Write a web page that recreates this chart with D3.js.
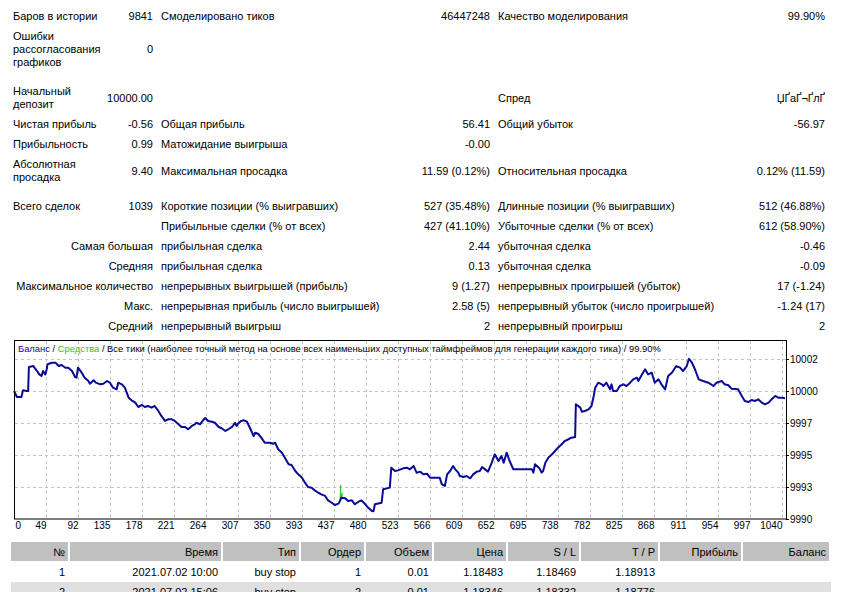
<!DOCTYPE html>
<html>
<head>
<meta charset="utf-8">
<script src="https://cdn.jsdelivr.net/npm/d3@7"></script>
<style>
  body { margin: 0; background: #fff; }
  svg text { font-family: "Liberation Sans", Arial, sans-serif; font-size: 11px; fill: #000; }
</style>
</head>
<body>
<svg width="846" height="592"></svg>
<script>
// --- summary table (3 column pairs, 13 rows)
var col1Labels = [["Баров в истории"], ["Ошибки", "рассогласования", "графиков"], ["Начальный", "депозит"],
  ["Чистая прибыль"], ["Прибыльность"], ["Абсолютная", "просадка"], ["Всего сделок"], [],
  ["Самая большая"], ["Средняя"], ["Максимальное количество"], ["Макс."], ["Средний"]]
var col1Values = ["9841", "0", "10000.00", "-0.56", "0.99", "9.40", "1039", "", "", "", "", "", ""]
var col2Labels = ["Смоделировано тиков", "", "", "Общая прибыль", "Матожидание выигрыша", "Максимальная просадка",
  "Короткие позиции (% выигравших)", "Прибыльные сделки (% от всех)", "прибыльная сделка", "прибыльная сделка",
  "непрерывных выигрышей (прибыль)", "непрерывная прибыль (число выигрышей)", "непрерывный выигрыш"]
var col2Values = ["46447248", "", "", "56.41", "-0.00", "11.59 (0.12%)", "527 (35.48%)", "427 (41.10%)",
  "2.44", "0.13", "9 (1.27)", "2.58 (5)", "2"]
var col3Labels = ["Качество моделирования", "", "Спред", "Общий убыток", "", "Относительная просадка",
  "Длинные позиции (% выигравших)", "Убыточные сделки (% от всех)", "убыточная сделка", "убыточная сделка",
  "непрерывных проигрышей (убыток)", "непрерывный убыток (число проигрышей)", "непрерывный проигрыш"]
var col3Values = ["99.90%", "", "ЏҐаҐ¬ҐлҐ", "-56.97", "", "0.12% (11.59)", "512 (46.88%)", "612 (58.90%)",
  "-0.46", "-0.09", "17 (-1.24)", "-1.24 (17)", "2"]

// --- chart: balance after trade n
var balancePoints = [[0,10000.00],[4,9999.53],[10,9999.53],[12,10000.05],[17,10000.00],[19,10000.00],[20,10001.88],
  [26,10001.95],[31,10001.56],[34,10001.30],[37,10001.17],[39,10001.56],[42,10001.30],[44,10001.70],[45,10002.09],
  [51,10002.21],[56,10002.20],[60,10001.95],[64,10002.03],[69,10001.82],[73,10001.82],[78,10001.56],[82,10001.09],
  [84,10001.04],[86,10001.82],[91,10001.43],[95,10001.04],[100,10000.78],[102,10000.57],[107,10000.84],[110,10000.65],
  [116,10000.52],[120,10000.57],[125,10000.78],[129,10000.65],[133,10000.26],[138,10000.13],[140,10000.65],
  [145,10000.52],[149,10000.26],[154,9999.48],[158,9999.27],[163,9999.09],[167,9998.75],[172,9998.91],[176,9998.75],
  [180,9998.83],[185,9998.70],[189,9998.83],[194,9998.44],[198,9998.05],[203,9997.66],[207,9997.79],[212,9997.79],
  [216,9997.66],[221,9997.40],[225,9997.19],[230,9997.19],[234,9997.01],[239,9997.27],[243,9997.40],[245,9997.52],
  [250,9997.40],[254,9997.71],[257,9997.89],[261,9997.66],[266,9997.60],[270,9997.52],[275,9997.19],[279,9997.09],
  [284,9996.88],[288,9997.01],[293,9997.19],[297,9997.52],[299,9997.27],[301,9997.45],[305,9997.66],[309,9997.71],
  [313,9997.60],[317,9997.13],[322,9996.48],[324,9996.74],[328,9996.66],[333,9996.30],[337,9995.96],[344,9995.96],
  [348,9995.88],[351,9995.96],[355,9995.45],[360,9995.18],[364,9994.79],[369,9994.27],[373,9994.22],[378,9993.75],
  [382,9993.49],[387,9993.23],[391,9992.84],[395,9992.50],[400,9992.45],[404,9992.24],[409,9992.05],[413,9991.93],
  [418,9991.80],[422,9991.46],[427,9991.27],[431,9991.09],[436,9991.20],[438,9991.41],[440,9991.66],[445,9991.62],
  [449,9991.41],[454,9991.46],[458,9991.15],[463,9991.35],[467,9991.46],[472,9991.15],[476,9990.88],[481,9990.63],
  [483,9990.60],[485,9991.15],[494,9991.27],[496,9992.32],[505,9992.45],[507,9994.01],[512,9993.75],[516,9993.80],
  [523,9993.96],[528,9994.01],[532,9993.88],[537,9994.14],[539,9993.88],[541,9993.62],[546,9993.70],[550,9993.49],
  [555,9993.54],[559,9993.23],[572,9993.23],[575,9992.71],[579,9992.58],[582,9993.49],[586,9993.75],[590,9994.14],
  [593,9993.88],[597,9993.62],[599,9993.36],[604,9993.28],[608,9993.36],[613,9993.18],[617,9993.49],[622,9993.70],
  [626,9993.75],[629,9994.06],[633,9993.88],[637,9993.70],[642,9994.40],[646,9995.05],[651,9994.53],[655,9994.92],
  [658,9994.40],[662,9995.18],[666,9994.53],[671,9993.88],[696,9993.88],[698,9993.62],[700,9994.27],[706,9993.96],
  [709,9993.62],[711,9993.75],[714,9994.40],[718,9994.79],[723,9995.05],[727,9995.31],[731,9995.57],[736,9995.84],
  [740,9996.09],[745,9996.23],[749,9996.35],[754,9996.41],[755,9998.96],[761,9998.70],[763,9998.38],[767,9998.44],
  [772,9998.57],[776,9998.83],[779,9999.61],[781,10000.26],[785,10000.65],[790,10000.52],[792,10000.39],
  [796,10000.65],[801,10000.13],[803,10000.52],[805,10000.00],[810,10000.00],[814,10000.39],[819,10000.52],
  [823,10000.39],[828,10000.65],[832,10000.91],[837,10001.04],[839,10000.78],[844,10001.30],[848,10001.70],
  [852,10001.30],[857,10001.43],[861,10000.65],[866,10000.91],[870,10000.52],[875,10000.13],[879,10001.17],
  [884,10001.43],[890,10001.95],[895,10001.82],[899,10001.56],[904,10001.95],[907,10002.52],[911,10002.21],
  [915,10001.70],[920,10000.91],[926,10000.78],[933,10000.65],[940,10000.39],[944,10000.65],[951,10000.78],
  [955,10000.52],[960,10000.45],[964,10000.18],[973,10000.13],[978,9999.61],[982,9999.22],[987,9999.14],
  [991,9999.30],[996,9999.22],[1000,9999.35],[1005,9999.09],[1009,9998.96],[1014,9999.09],[1018,9999.35],
  [1023,9999.61],[1027,9999.48],[1032,9999.48],[1036,9999.44]]
// equity only differs from balance in one spot
var equityPoints = [[438,9991.41],[439,9992.66],[439,9991.50],[441,9992.05],[441,9991.62],[442,9991.62]]

var xTickLabels = ["0","49","92","135","178","221","264","307","350","393","437","480","523","566","609","652",
  "695","738","782","825","868","911","954","997","1040"]
var yTickValues = [9990, 9992.5, 9995, 9997.5, 10000, 10002.5]
var yTickLabels = ["9990","9993","9995","9997","10000","10002"]

// --- deals table
var tableHeader = ["№","Время","Тип","Ордер","Объем","Цена","S / L","T / P","Прибыль","Баланс"]
var tradeRow1 = ["1","2021.07.02 10:00","buy stop","1","0.01","1.18483","1.18469","1.18913","",""]
var tradeRow2 = ["2","2021.07.02 15:06","buy stop","2","0.01","1.18346","1.18332","1.18776","",""]

var svg = d3.select('svg')

// summary
var rowY = [16, 49, 98, 124, 144, 171, 206, 226, 246, 266, 286, 306, 326]

col1Labels.forEach(function(lines, i){
    var right = i >= 8
    lines.forEach(function(s, k){
        svg.append('text')
            .attr('x', right ? 153 : 13)
            .attr('y', rowY[i] + (k - (lines.length - 1) / 2) * 13)
            .attr('dy', '0.35em')
            .attr('text-anchor', right ? 'end' : 'start')
            .text(s)
    })
})
function col(labels, values, lx, vx){
    labels.forEach(function(s, i){
        svg.append('text').attr('x', lx).attr('y', rowY[i]).attr('dy', '0.35em').text(s)
    })
    values.forEach(function(s, i){
        svg.append('text').attr('x', vx).attr('y', rowY[i]).attr('dy', '0.35em')
            .attr('text-anchor', 'end').text(s)
    })
}
col([], col1Values, 0, 153)
col(col2Labels, col2Values, 161, 490)
col(col3Labels, col3Values, 498, 825)

// chart
var x = d3.scaleLinear().domain([0, 1032]).range([14, 782])
var y = d3.scaleLinear().domain([9990, 10004]).range([519, 339.8])
var xTicks = xTickLabels.map(function(d, i){ return i * 43 })

var grid = svg.append('g').attr('stroke', '#c4c4c4').attr('stroke-dasharray', '3,3')
grid.selectAll('.vx').data(xTicks.slice(1)).enter().append('line')
    .attr('x1', function(d){ return Math.round(x(d)) + 0.5 })
    .attr('x2', function(d){ return Math.round(x(d)) + 0.5 })
    .attr('y1', 341).attr('y2', 519)
grid.selectAll('.hy').data(yTickValues.slice(1)).enter().append('line')
    .attr('y1', function(d){ return Math.round(y(d)) + 0.5 })
    .attr('y2', function(d){ return Math.round(y(d)) + 0.5 })
    .attr('x1', 15).attr('x2', 786)

var line = d3.line()
    .x(function(d){ return x(d[0]) })
    .y(function(d){ return y(d[1]) })

svg.append('path').datum(equityPoints)
    .attr('d', line).attr('fill', 'none').attr('stroke', '#2fc42f').attr('stroke-width', 1)
svg.append('path').datum(balancePoints)
    .attr('d', line).attr('fill', 'none').attr('stroke', '#0a0a96').attr('stroke-width', 2)
    .attr('stroke-linejoin', 'round')

svg.append('rect').attr('x', 14.5).attr('y', 340.5).attr('width', 772).attr('height', 178.5)
    .attr('fill', 'none').attr('stroke', '#000')

var xAxis = svg.append('g').attr('transform', 'translate(0,519)')
    .call(d3.axisBottom(x).tickValues(xTicks).tickSize(0).tickPadding(3)
        .tickFormat(function(d, i){ return xTickLabels[i] }))
xAxis.select('.domain').remove()
xAxis.selectAll('text').style('font-size', '10px')
    .attr('text-anchor', function(d, i){ return i == 0 ? 'start' : 'end' })
    .attr('dx', function(d, i){ return i == 0 ? 1 : 0 })

var yAxis = svg.append('g').attr('transform', 'translate(786,0)')
    .call(d3.axisRight(y).tickValues(yTickValues).tickSize(3).tickPadding(1)
        .tickFormat(function(d, i){ return yTickLabels[i] }))
yAxis.select('.domain').remove()
yAxis.selectAll('text').style('font-size', '10px')

var title = svg.append('text').attr('x', 18).attr('y', 349).attr('dy', '0.35em').style('font-size', '9.4px')
title.append('tspan').style('fill', '#0a0a96').text('Баланс')
title.append('tspan').text(' / ')
title.append('tspan').style('fill', '#2fc42f').text('Средства')
title.append('tspan').text(' / Все тики (наиболее точный метод на основе всех наименьших доступных таймфреймов для генерации каждого тика) / 99.90%')

// deals table
var colEdges = [11, 70, 223, 301, 366, 434, 508, 581, 660, 743, 831]
var tableRows = [tableHeader, tradeRow1, tradeRow2]
var rowTop = [542, 562, 582]
var rowFill = ['#c0c0c0', '#ffffff', '#e0e0e0']

tableRows.forEach(function(row, r){
    var g = svg.append('g')
    if (r == 0) {
        g.selectAll('rect').data(row).enter().append('rect')
            .attr('x', function(d, i){ return colEdges[i] })
            .attr('width', function(d, i){ return colEdges[i + 1] - colEdges[i] - 2 })
            .attr('y', rowTop[r]).attr('height', 19).attr('fill', rowFill[r])
    } else {
        g.append('rect').attr('x', colEdges[0]).attr('width', colEdges[10] - colEdges[0])
            .attr('y', rowTop[r]).attr('height', 20).attr('fill', rowFill[r])
    }
    g.selectAll('text').data(row).enter().append('text')
        .attr('x', function(d, i){ return colEdges[i + 1] - 5 })
        .attr('y', rowTop[r] + 10).attr('dy', '0.35em')
        .attr('text-anchor', 'end')
        .text(function(d){ return d })
})
</script>
</body>
</html>
